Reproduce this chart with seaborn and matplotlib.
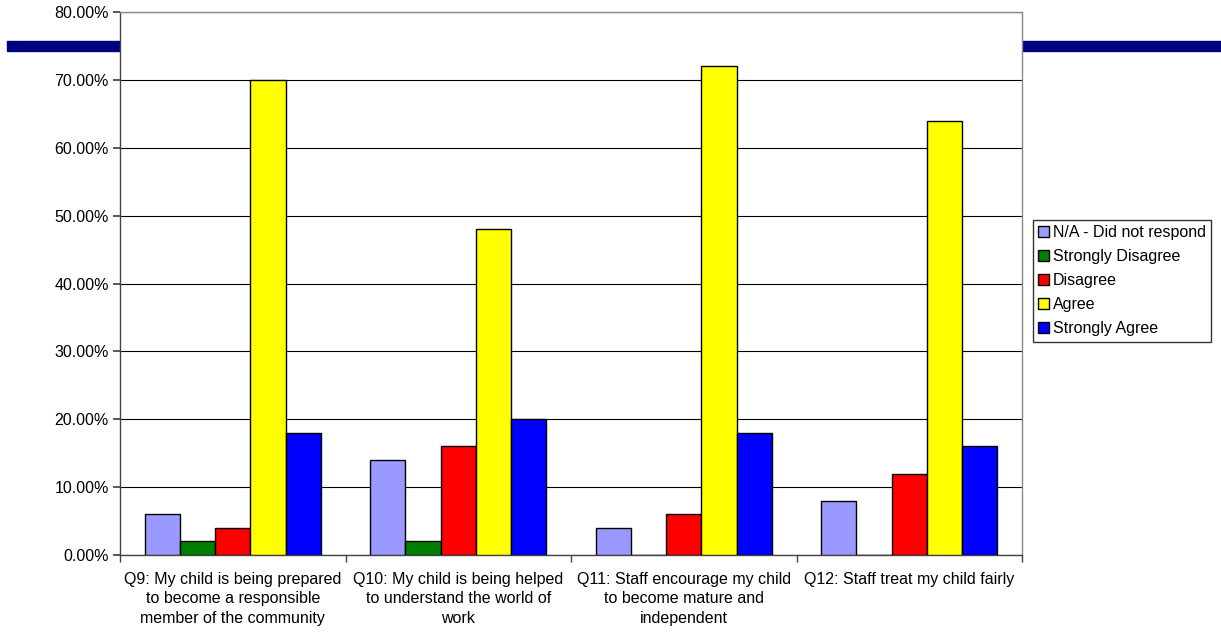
import matplotlib
matplotlib.use("Agg")
import matplotlib.pyplot as plt
import seaborn as sns
import pandas as pd
import numpy as np
from matplotlib.patches import Rectangle

categories = [
    "Q9: My child is being prepared\nto become a responsible\nmember of the community",
    "Q10: My child is being helped\nto understand the world of\nwork",
    "Q11: Staff encourage my child\nto become mature and\nindependent",
    "Q12: Staff treat my child fairly",
]
series = ["N/A - Did not respond", "Strongly Disagree", "Disagree", "Agree", "Strongly Agree"]
na_vals = [6, 14, 4, 8]
sd_vals = [2, 2, 0, 0]
d_vals = [4, 16, 6, 12]
a_vals = [70, 48, 72, 64]
sa_vals = [18, 20, 18, 16]
colors = ["#9999FF", "#008000", "#FF0000", "#FFFF00", "#0000FF"]
yticks = [0, 10, 20, 30, 40, 50, 60, 70, 80]

rows = []
for s, vals in zip(series, [na_vals, sd_vals, d_vals, a_vals, sa_vals]):
    for c, v in zip(categories, vals):
        rows.append({"cat": c, "series": s, "val": v})
df = pd.DataFrame(rows)

sns.set_theme(style="white")
plt.rcParams["font.family"] = ["Liberation Sans", "DejaVu Sans"]
plt.rcParams["text.color"] = "black"
plt.rcParams["xtick.color"] = "black"
plt.rcParams["ytick.color"] = "black"

FS = 11.5

fig = plt.figure(figsize=(12.21, 6.32), dpi=100)
ax = fig.add_axes([120/1221, 1-555/632, (1022-120)/1221, (555-12)/632])
ax.set_zorder(2)

# decorative blue band behind the chart
fig.patches.append(Rectangle((7/1221, 1-51/632), (1221-7)/1221, 10/632,
                             transform=fig.transFigure, color="#000080", zorder=-1))

sns.barplot(data=df, x="cat", y="val", hue="series", hue_order=series, order=categories,
            palette=colors, width=0.78, gap=0, edgecolor="black", linewidth=1,
            saturation=1, ax=ax, zorder=3, legend=True)
ax.set_facecolor("white")

ax.set_ylim(0, 80)
ax.set_yticks(yticks)
ax.set_yticklabels([f"{v:.2f}%" for v in yticks], fontsize=FS)
ax.yaxis.grid(True, color="black", linewidth=0.8)
ax.set_axisbelow(True)
ax.set_xlim(-0.5, 3.5)
ax.set_xlabel("")
ax.set_ylabel("")
ax.tick_params(axis="x", which="major", length=0, labelsize=FS, pad=12)
for lbl in ax.get_xticklabels():
    lbl.set_linespacing(1.38)
ax.set_xticks([-0.5, 0.5, 1.5, 2.5, 3.5], minor=True)
ax.tick_params(axis="x", which="minor", length=5, color="#444444", direction="out", bottom=True)
ax.tick_params(axis="y", length=5, color="#444444", direction="out", left=True, pad=3)
for sp in ax.spines.values():
    sp.set_color("#888888")
    sp.set_linewidth(1)
ax.spines["left"].set_color("#444444")
ax.spines["bottom"].set_color("#444444")

leg = ax.legend(loc="center left", bbox_to_anchor=(1.012, 0.505), frameon=True, fontsize=FS,
                fancybox=False, edgecolor="black", handlelength=0.65, handleheight=0.65,
                handletextpad=0.25, borderpad=0.35, labelspacing=0.56, borderaxespad=0)
leg.get_frame().set_linewidth(1)
for h in leg.legend_handles:
    h.set_edgecolor("black")
    h.set_linewidth(1)

fig.savefig("out.png", dpi=100, facecolor="white")
